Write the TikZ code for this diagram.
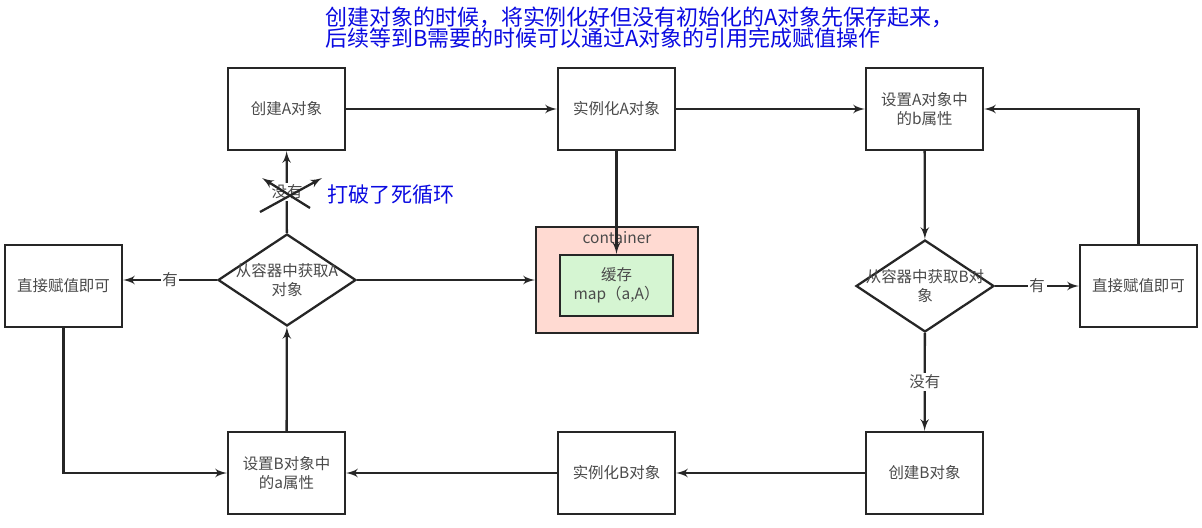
\documentclass[tikz,border=0pt]{standalone}
\usepackage{fontspec}
\setmainfont{Noto Sans CJK SC}
\usetikzlibrary{arrows,shapes.geometric}
\definecolor{linegray}{HTML}{262626}
\definecolor{textgray}{HTML}{4A4A4A}
\definecolor{notblue}{RGB}{10,10,225}
\definecolor{contpink}{RGB}{255,218,210}
\definecolor{cachegreen}{RGB}{213,245,210}

\begin{document}
\begin{tikzpicture}
		[x=0.02cm,y=-0.02cm,every node/.style={font=\fontsize{8.8}{11}\selectfont,text=textgray},
		box/.style={draw=linegray,line width=1.3pt,minimum width=2.34cm,minimum height=1.64cm,align=center},
		choice/.style={diamond,draw=linegray,line width=1.3pt,minimum width=2.76cm,minimum height=1.84cm,inner sep=0pt},
		edge/.style={->,> = latex',line width=1.3pt,draw=linegray},
		lbl/.style={fill=white,inner sep=1pt},
		note/.style={text=notblue,align=left}]
		\useasboundingbox (0,0) rectangle (1202,527);
		\node[note,anchor=west,inner sep=0pt,font=\fontsize{12.5}{12}\selectfont] (topnote) at (325,28) {创建对象的时候，将实例化好但没有初始化的A对象先保存起来，\\后续等到B需要的时候可以通过A对象的引用完成赋值操作};
		
		\node[box] (createA) at (286.5,109) {创建A对象};
		\node[box] (instA) at (616.5,109) {实例化A对象};
		\node[box] (setAb) at (924.5,109) {设置A对象中\\的b属性};
		\node[choice] (getA) at (287,280) {};
		\node[align=center] (getAtxt) at (getA) {从容器中获取A\\对象};
		\node[box] (assignL) at (63.5,286) {直接赋值即可};
		\node[draw=linegray,line width=1.3pt,fill=contpink,minimum width=3.24cm,minimum height=2.12cm] (cont) at (617,280) {};
		\node (contlbl) at (617,238) {container};
		\node[draw=linegray,line width=1.3pt,fill=cachegreen,minimum width=2.26cm,minimum height=1.22cm,align=center] (cache) at (616.5,285.5) {缓存\\map（a,A）};
		\node[choice] (getB) at (925,286) {};
		\node[align=center] (getBtxt) at (getB) {从容器中获取B对\\象};
		\node[box] (assignR) at (1138.5,286) {直接赋值即可};
		\node[box] (createB) at (924.5,473) {创建B对象};
		\node[box] (instB) at (616.5,473) {实例化B对象};
		\node[box] (setBa) at (286.5,473) {设置B对象中\\的a属性};
		
		\foreach \from/\to in {createA/instA,instA/setAb,instA/cache,setAb/getB,createB/instB,instB/setBa,setBa/getA,getA/createA,getA/cont}
		\draw[edge] (\from) -- (\to);
		
		\draw[edge] (getA.west) -- (getA.west -| assignL.east) node[lbl,midway] (yesL) {有};
		\draw[edge] (getB) -- (assignR) node[lbl,midway] (yesR) {有};
		\draw[edge] (getB) -- (createB) node[lbl,midway] (noB) {没有};
		\draw[edge] (assignR.north) |- (setAb.east);
		\draw[edge] (assignL.south) |- (setBa.west);
		
		% crossed out path
		\node[lbl] (noA) at (287,192) {没有};
		\coordinate (c1) at (310,208);
		\coordinate (c2) at (262,178);
		\coordinate (c3) at (260,212);
		\coordinate (c4) at (322,178);
		\draw[edge] (c1) -- (c2);
		\draw[edge] (c3) -- (c4);
		\node[note,font=\fontsize{12}{12}\selectfont] (breaknote) at (391,195) {打破了死循环};
		\end{tikzpicture}
\end{document}
